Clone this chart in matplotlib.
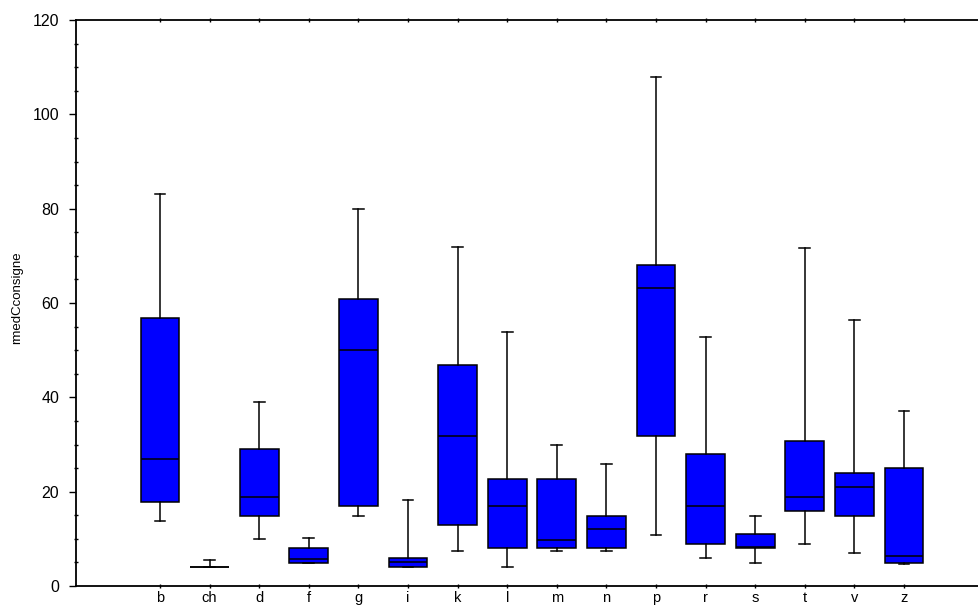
import matplotlib.pyplot as plt
from matplotlib.ticker import MultipleLocator

categories = ['b', 'ch', 'd', 'f', 'g', 'i', 'k', 'l', 'm', 'n', 'p', 'r', 's', 't', 'v', 'z']
whislo = [13.8, 4.0, 9.9, 4.9, 14.8, 4.1, 7.5, 4.1, 7.5, 7.5, 10.8, 5.9, 4.9, 8.9, 7.1, 4.6]
q1 = [17.9, 4.0, 14.8, 4.9, 17.0, 4.1, 12.9, 8.0, 8.0, 8.0, 31.8, 8.9, 8.1, 16.0, 14.8, 4.9]
med = [26.9, 4.0, 18.8, 5.7, 50.0, 5.0, 31.8, 17.0, 9.8, 12.1, 63.2, 17.0, 8.3, 18.8, 21.0, 6.4]
q3 = [56.8, 4.0, 29.0, 8.1, 60.8, 5.9, 46.9, 22.7, 22.7, 14.8, 68.0, 28.0, 11.0, 30.8, 24.0, 25.0]
whishi = [83.2, 5.5, 39.1, 10.2, 79.9, 18.2, 71.9, 53.9, 29.9, 25.9, 107.9, 52.7, 14.8, 71.7, 56.4, 37.0]

plt.rcParams['font.family'] = ['Liberation Sans', 'DejaVu Sans']

stats = []
for i, name in enumerate(categories):
    stats.append({'label': name, 'whislo': whislo[i], 'q1': q1[i], 'med': med[i],
                  'q3': q3[i], 'whishi': whishi[i], 'fliers': []})

fig = plt.figure(figsize=(9.79, 6.10), dpi=100)
ax = fig.add_axes([76 / 979, 24 / 610, 1 - 76 / 979, 566 / 610])

pos = list(range(1, len(categories) + 1))
ax.bxp(stats, positions=pos, widths=0.78, patch_artist=True, showfliers=False,
       capwidths=0.22,
       boxprops=dict(facecolor='#0000ff', edgecolor='black', linewidth=1.1),
       medianprops=dict(color='black', linewidth=1.1),
       whiskerprops=dict(color='black', linewidth=1.1),
       capprops=dict(color='black', linewidth=1.1))

ax.set_xlim(1 - 84 / 49.6, 1 + (979 - 160) / 49.6)
ax.set_ylim(0, 120)
ax.yaxis.set_major_locator(MultipleLocator(20))
ax.yaxis.set_minor_locator(MultipleLocator(5))
ax.set_xticks(pos)
ax.set_xticklabels(categories)

ax.spines['right'].set_visible(False)
for s in ['left', 'bottom', 'top']:
    ax.spines[s].set_linewidth(1.3)

ax.tick_params(axis='y', which='major', direction='out', length=5, width=1,
               labelsize=11.5, pad=7)
ax.tick_params(axis='y', which='minor', direction='inout', length=3, width=1)
ax.tick_params(axis='x', which='major', direction='inout', length=3, width=1,
               top=True, labelsize=10.5, pad=2)
ax.set_ylabel('rmedCconsigne', fontsize=9.5)
ax.yaxis.set_label_coords(-0.0587, 0.51)

fig.savefig('out.png', dpi=100)
